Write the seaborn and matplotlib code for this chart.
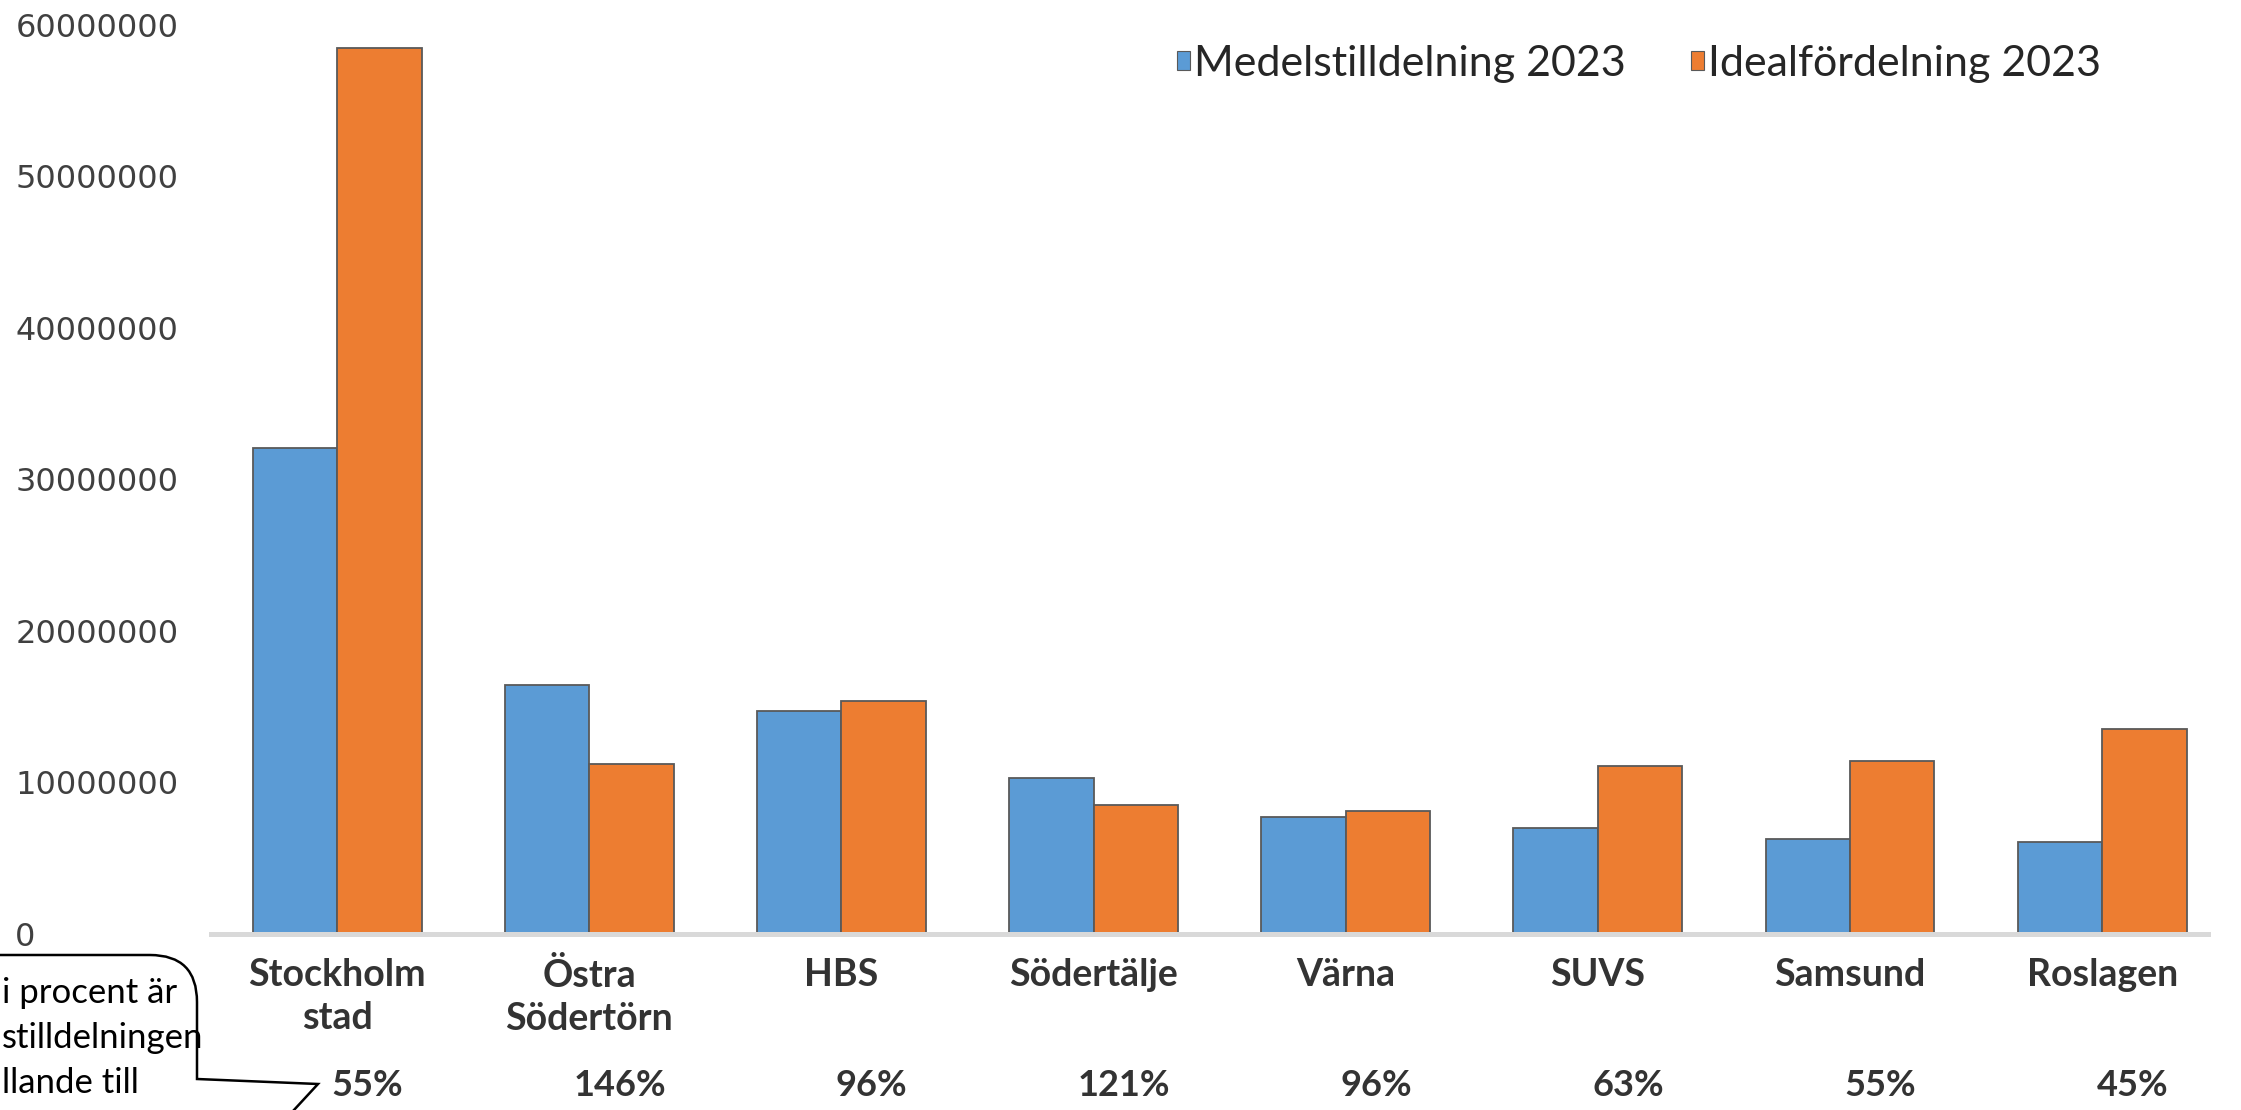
import numpy as np
import pandas as pd
import seaborn as sns
import matplotlib.pyplot as plt
from matplotlib.path import Path
from matplotlib.patches import PathPatch

omraden = ['Stockholm\nstad', 'Östra\nSödertörn', 'HBS', 'Södertälje', 'Värna',
           'SUVS', 'Samsund', 'Roslagen']
medel = [32100000, 16400000, 14700000, 10300000, 7700000, 7000000, 6300000, 6100000]
ideal = [58500000, 11200000, 15400000, 8500000, 8100000, 11100000, 11400000, 13500000]
procent = ['55%', '146%', '96%', '121%', '96%', '63%', '55%', '45%']
serier = ['Medelstilldelning 2023', 'Idealfördelning 2023']

df = pd.DataFrame({
    'omrade': omraden * 2,
    'varde': medel + ideal,
    'serie': [serier[0]] * len(omraden) + [serier[1]] * len(omraden),
})

sns.set_style('white')
plt.rcParams['font.family'] = ['Lato', 'DejaVu Sans']

fig = plt.figure(figsize=(22.41, 11.10), dpi=100)
ax = fig.add_axes([0.0942, 0.1586, 0.8911, 0.8189])

sns.barplot(data=df, x='omrade', y='varde', hue='serie',
            palette=['#5B9BD5', '#ED7D31'], saturation=1, width=0.67,
            edgecolor='#595959', linewidth=1.3, ax=ax)

ax.set_ylim(0, 60000000)
ax.set_xlim(-0.5, 7.42)
ax.set_yticks(np.arange(0, 60000001, 10000000))
ax.set_yticklabels([f'{int(v)}' for v in ax.get_yticks()],
                   family='DejaVu Sans', fontsize=23, color='#404040')
for lab in ax.get_yticklabels():
    lab.set_horizontalalignment('left')
ax.tick_params(axis='y', length=0, pad=141)
ax.tick_params(axis='x', length=0, pad=17)
for lab in ax.get_xticklabels():
    lab.set_fontsize(27)
    lab.set_fontweight('bold')
    lab.set_color('#333333')
    lab.set_linespacing(1.35)
ax.set_xlabel('')
ax.set_ylabel('')

sns.despine(ax=ax, left=True)
ax.spines['bottom'].set_color('#D9D9D9')
ax.spines['bottom'].set_linewidth(3.6)

for i, p in enumerate(procent):
    ax.text(i + 0.12, -0.167, p, transform=ax.get_xaxis_transform(),
            ha='center', va='center', fontsize=26, fontweight='bold', color='#333333')

leg = ax.legend(loc='center right', bbox_to_anchor=(0.955, 0.957), ncol=2,
                frameon=False, fontsize=31, handlelength=0.3, handleheight=0.3,
                handletextpad=0.1, columnspacing=1.5, borderaxespad=0)
for h in leg.legend_handles:
    h.set_linewidth(0.8)
for t in leg.get_texts():
    t.set_color('#262626')

# pratbubbla nere till vänster (delvis utanför bilden)
H = 1110
verts = [(-60, H - 955), (150, H - 955), (197, H - 955), (197, H - 1002),
         (197, H - 1079), (318, H - 1084), (257, -40)]
codes = [Path.MOVETO, Path.LINETO, Path.CURVE3, Path.CURVE3,
         Path.LINETO, Path.LINETO, Path.LINETO]
bubbla = PathPatch(Path(verts, codes), facecolor='white', edgecolor='black',
                   linewidth=1.8, transform=None, clip_on=False)
fig.patches.append(bubbla)
bubbeltext = ['i procent är', 'stilldelningen', 'llande till']
for k, rad in enumerate(bubbeltext):
    fig.text(2 / 2241, 1 - (993 + 45 * k) / H, rad, ha='left', va='center',
             fontsize=25, color='black')

fig.savefig('out.png', dpi=100)
